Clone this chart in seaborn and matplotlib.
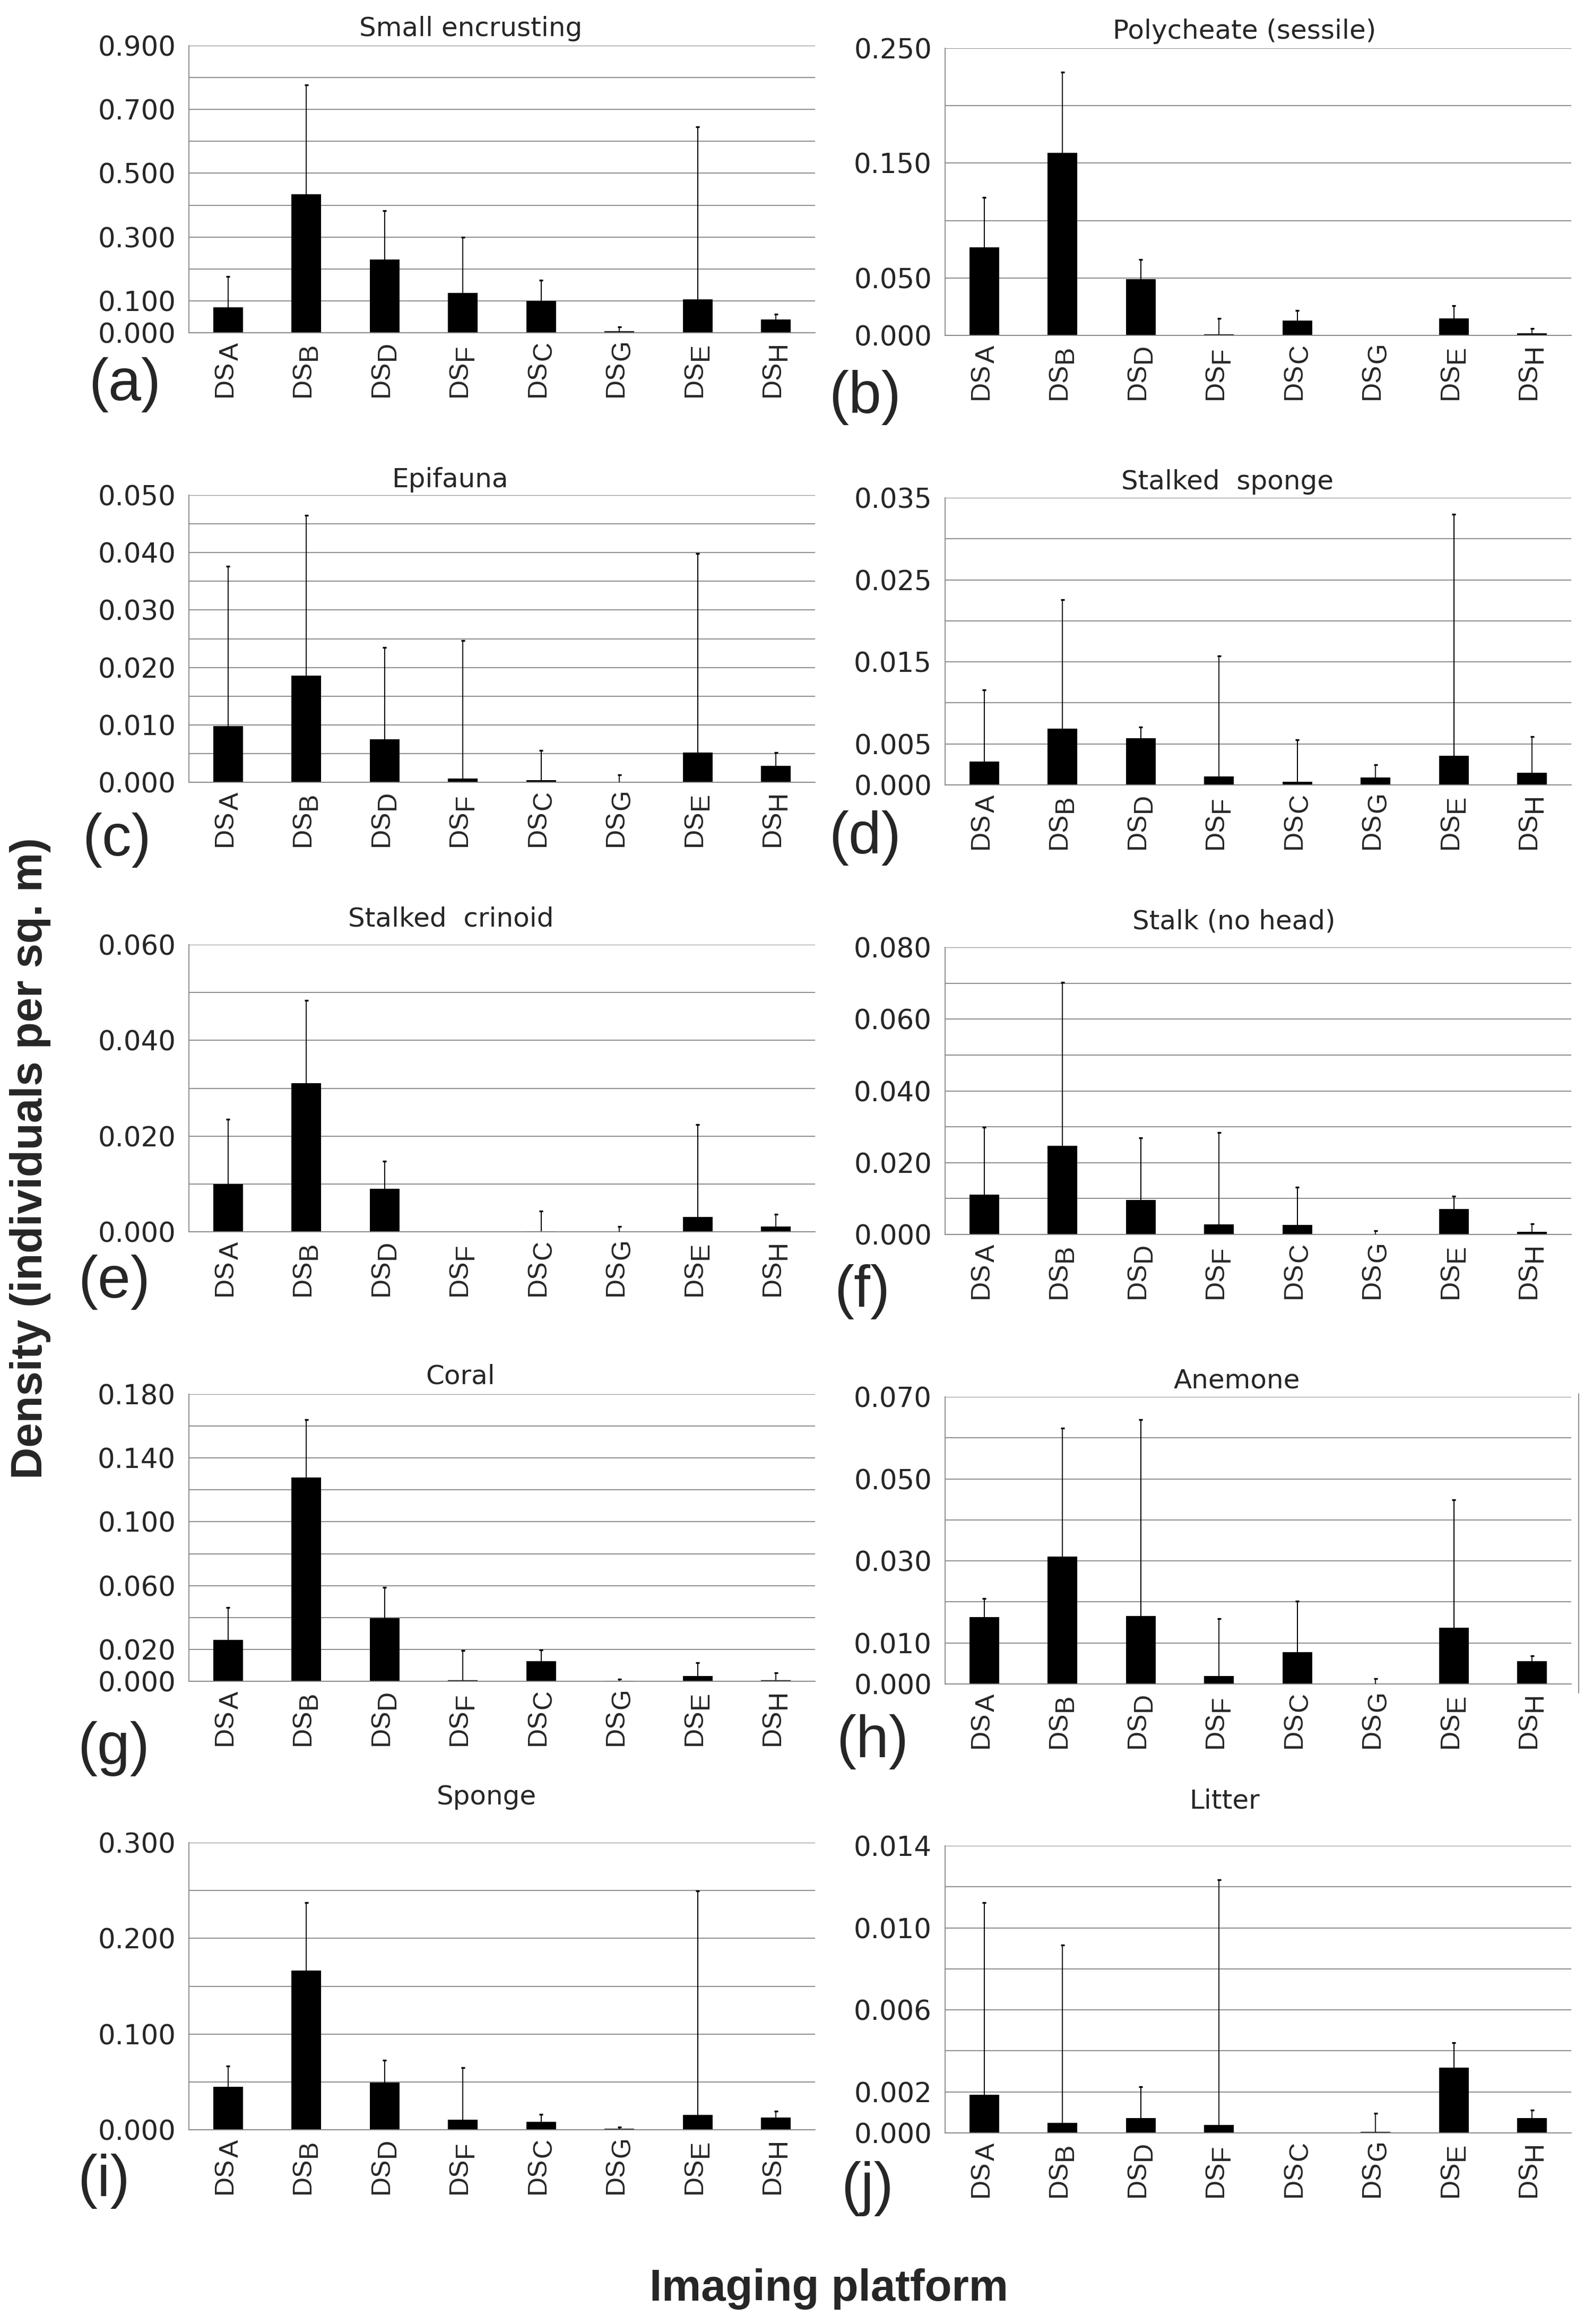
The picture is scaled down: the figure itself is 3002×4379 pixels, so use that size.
import matplotlib

matplotlib.use("Agg")
import matplotlib.pyplot as plt
import matplotlib.transforms as mtransforms
import numpy as np
import pandas as pd
import seaborn as sns
from matplotlib.lines import Line2D

# ---------------------------------------------------------------- data
platforms = ["A", "B", "D", "F", "C", "G", "E", "H"]

small_encrusting_mean = [0.080, 0.434, 0.230, 0.125, 0.099, 0.005, 0.104, 0.041]
small_encrusting_sd = [0.097, 0.343, 0.152, 0.175, 0.065, 0.014, 0.542, 0.017]

polychaete_mean = [0.0767, 0.159, 0.049, 0.001, 0.013, 0.0, 0.0148, 0.002]
polychaete_sd = [0.0433, 0.070, 0.017, 0.0138, 0.0088, 0.0, 0.0112, 0.0038]

epifauna_mean = [0.0098, 0.0186, 0.0075, 0.00065, 0.00035, 0.0, 0.0052, 0.00286]
epifauna_sd = [0.0278, 0.0279, 0.0160, 0.0240, 0.0052, 0.0013, 0.0346, 0.0023]

stalked_sponge_mean = [0.00284, 0.00684, 0.00568, 0.00102, 0.00039, 0.00091, 0.00354, 0.00147]
stalked_sponge_sd = [0.00876, 0.01571, 0.00140, 0.01472, 0.00511, 0.00158, 0.02946, 0.00439]

stalked_crinoid_mean = [0.00993, 0.03105, 0.00897, 0.0, 0.0001, 0.0, 0.0031, 0.0011]
stalked_crinoid_sd = [0.01354, 0.01735, 0.00583, 0.0, 0.0042, 0.0011, 0.0193, 0.0026]

stalk_mean = [0.0111, 0.0247, 0.0096, 0.0028, 0.0027, 0.0, 0.0071, 0.0008]
stalk_sd = [0.0187, 0.0455, 0.0173, 0.0256, 0.0104, 0.0010, 0.0036, 0.0022]

coral_mean = [0.026, 0.1278, 0.0397, 0.0005, 0.0126, 0.0002, 0.0032, 0.0005]
coral_sd = [0.0204, 0.0361, 0.0193, 0.0188, 0.0071, 0.0012, 0.0085, 0.0049]

anemone_mean = [0.0163, 0.0311, 0.0165, 0.0019, 0.0077, 0.0, 0.0137, 0.0055]
anemone_sd = [0.0045, 0.0313, 0.0480, 0.0140, 0.0125, 0.0013, 0.0312, 0.0014]

sponge_mean = [0.0448, 0.1664, 0.0493, 0.0105, 0.0081, 0.0009, 0.0153, 0.0126]
sponge_sd = [0.0220, 0.0710, 0.0235, 0.0545, 0.0081, 0.0021, 0.2344, 0.0070]

litter_mean = [0.00187, 0.00049, 0.00073, 0.00038, 0.0, 0.00006, 0.00319, 0.00073]
litter_sd = [0.00935, 0.00867, 0.00152, 0.01197, 0.0, 0.00091, 0.00121, 0.00038]

# letter, title, means, sd, grid step, axis top, labelled ticks
panels = [
    ("(a)", "Small encrusting", small_encrusting_mean, small_encrusting_sd,
     0.1, 0.9, [0.0, 0.1, 0.3, 0.5, 0.7, 0.9]),
    ("(b)", "Polycheate (sessile)", polychaete_mean, polychaete_sd,
     0.05, 0.25, [0.0, 0.05, 0.15, 0.25]),
    ("(c)", "Epifauna", epifauna_mean, epifauna_sd,
     0.005, 0.05, [0.0, 0.01, 0.02, 0.03, 0.04, 0.05]),
    ("(d)", "Stalked  sponge", stalked_sponge_mean, stalked_sponge_sd,
     0.005, 0.035, [0.0, 0.005, 0.015, 0.025, 0.035]),
    ("(e)", "Stalked  crinoid", stalked_crinoid_mean, stalked_crinoid_sd,
     0.01, 0.06, [0.0, 0.02, 0.04, 0.06]),
    ("(f)", "Stalk (no head)", stalk_mean, stalk_sd,
     0.01, 0.08, [0.0, 0.02, 0.04, 0.06, 0.08]),
    ("(g)", "Coral", coral_mean, coral_sd,
     0.02, 0.18, [0.0, 0.02, 0.06, 0.10, 0.14, 0.18]),
    ("(h)", "Anemone", anemone_mean, anemone_sd,
     0.01, 0.07, [0.0, 0.01, 0.03, 0.05, 0.07]),
    ("(i)", "Sponge", sponge_mean, sponge_sd,
     0.05, 0.3, [0.0, 0.1, 0.2, 0.3]),
    ("(j)", "Litter", litter_mean, litter_sd,
     0.002, 0.014, [0.0, 0.002, 0.006, 0.010, 0.014]),
]

# ---------------------------------------------------------------- layout (pixels)
W, H = 3002, 4379
AX_W, AX_H = 1180, 541
COL_X = [356, 1781]
AX_TOP = [86, 91, 933, 938, 1780, 1785, 2627, 2632, 3472, 3478]
TITLE_POS = [(887, 68), (2345, 73), (848, 918), (2313, 922), (850, 1746),
             (2325, 1751), (868, 2608), (2331, 2615), (917, 3400), (2307, 3408)]
LETTER_POS = [(235, 725), (1630, 749), (220, 1583), (1630, 1579), (215, 2416),
              (1625, 2434), (214, 3295), (1644, 3282), (195, 4110), (1634, 4124)]
GRID = "#858585"
LABEL_DROP = 121  # px from axis line to start of "DS"
ARIAL = ["Liberation Sans", "DejaVu Sans"]

sns.set_style("white")
plt.rcParams["font.family"] = ["DejaVu Sans"]

fig = plt.figure(figsize=(W / 100, H / 100), dpi=100)

for k, (letter, title, mean, sd, step, top, labelled) in enumerate(panels):
    left = COL_X[k % 2]
    rect = [left / W, 1 - (AX_TOP[k] + AX_H) / H, AX_W / W, AX_H / H]
    ax = fig.add_axes(rect)

    df = pd.DataFrame({"platform": platforms, "density": mean})
    sns.barplot(data=df, x="platform", y="density", order=platforms, color="black",
                saturation=1, width=0.38, errorbar=None, ax=ax, linewidth=0)

    x = np.arange(len(platforms))
    m = np.asarray(mean)
    s = np.asarray(sd)
    has = s > 0
    ax.vlines(x[has], m[has], (m + s)[has], color="black", lw=1.4, zorder=3)
    ax.hlines((m + s)[has], x[has] - 0.025, x[has] + 0.025, color="black", lw=2.4, zorder=3)

    ax.set_xlim(-0.5, len(platforms) - 0.5)
    ax.set_ylim(0, top)
    ticks = np.round(np.arange(0, top + step / 2, step), 6)
    ax.set_yticks(ticks)
    ax.set_yticklabels([f"{t:.3f}" if np.any(np.isclose(t, labelled)) else "" for t in ticks])
    ax.set_xticks(np.arange(-0.5, len(platforms), 1))
    ax.set_xticklabels([])
    ax.set_xlabel("")
    ax.set_ylabel("")
    ax.tick_params(axis="y", length=0, pad=18, labelsize=37)
    ax.tick_params(axis="x", length=9, width=1.3, color=GRID, direction="out")
    ax.set_axisbelow(True)
    ax.yaxis.grid(True, color=GRID, lw=1.3)
    ax.xaxis.grid(False)
    for side in ["top", "right"]:
        ax.spines[side].set_visible(False)
    for side in ["left", "bottom"]:
        ax.spines[side].set_color(GRID)
        ax.spines[side].set_linewidth(1.3)

    # rotated "DS" labels with the platform letter as a same-size subscript
    trans = mtransforms.blended_transform_factory(ax.transData, ax.transAxes)
    for i, p in enumerate(platforms):
        t = ax.text(i - 0.04, -LABEL_DROP / AX_H, "DS", transform=trans, rotation=90,
                    ha="center", va="bottom", family=ARIAL, fontsize=36)
        ax.annotate(p, xy=(0, 1), xycoords=t, xytext=(12, 0), textcoords="offset pixels",
                    rotation=90, ha="left", va="bottom", family=ARIAL, fontsize=36)

    tx, ty = TITLE_POS[k]
    fig.text(tx / W, 1 - ty / H, title, ha="center", va="baseline", fontsize=36)
    lx, ly = LETTER_POS[k]
    fig.text(lx / W, 1 - ly / H, letter, ha="center", va="center",
             family=ARIAL, fontsize=80)

# frame edge to the right of panel (h)
fig.add_artist(Line2D([2975 / W, 2975 / W], [1 - 2626 / H, 1 - 3190 / H],
                      transform=fig.transFigure, color=GRID, lw=1.3))

fig.text(57 / W, 1 - 2183 / H, "Density (individuals per sq. m)", rotation=90,
         ha="center", va="center", fontsize=60, fontweight="bold", family=ARIAL)
fig.text(1562 / W, 1 - 4335 / H, "Imaging platform", ha="center", va="baseline",
         fontsize=60, fontweight="bold", family=ARIAL)

fig.savefig("out.png", dpi=100, facecolor="white")
